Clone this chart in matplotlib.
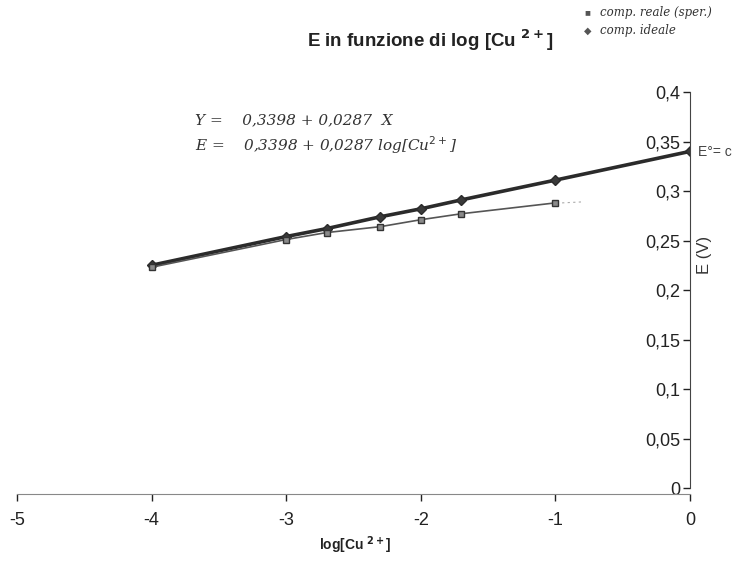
import matplotlib
matplotlib.use('Agg')
import matplotlib.pyplot as plt

# log della concentrazione di Cu2+
x_reale = [-4, -3, -2.7, -2.3, -2, -1.7, -1]
y_reale = [0.223, 0.251, 0.258, 0.264, 0.271, 0.277, 0.288]

x_ideale = [-4, -3, -2.7, -2.3, -2, -1.7, -1, 0]
y_ideale = [0.225, 0.254, 0.262, 0.274, 0.282, 0.291, 0.311, 0.340]

xticks = [-5, -4, -3, -2, -1, 0]
yticks = [0, 0.05, 0.1, 0.15, 0.2, 0.25, 0.3, 0.35, 0.4]
ytick_labels = ['0', '0,05', '0,1', '0,15', '0,2', '0,25', '0,3', '0,35', '0,4']

plt.rcParams['font.family'] = ['Liberation Sans', 'DejaVu Sans']

fig = plt.figure(figsize=(7.33, 5.61), dpi=100)
ax = fig.add_axes([0.0232, 0.1301, 0.9181, 0.7059])

# serie ideale (rombi, linea spessa) e reale (quadrati, linea sottile)
ax.plot(x_ideale, y_ideale, color='#2b2b2b', lw=2.6, marker='D', ms=5,
        mfc='#3a3a3a', mec='#2b2b2b', zorder=3)
ax.plot(x_reale, y_reale, color='#555555', lw=1.2, marker='s', ms=5,
        mfc='#8a8a8a', mec='#333333', zorder=4)
ax.plot([-0.95, -0.8], [y_reale[-1], y_reale[-1] + 0.001], color='#aaaaaa',
        lw=0.8, ls=(0, (2, 3)))

ax.set_xlim(-5, 0)
ax.set_ylim(0, 0.4)
ax.spines['top'].set_visible(False)
ax.spines['right'].set_visible(False)
ax.spines['left'].set_position(('data', 0))
ax.spines['left'].set_color('#444444')
ax.spines['bottom'].set_color('#888888')
ax.spines['bottom'].set_position(('data', -0.006))
ax.spines['left'].set_zorder(5)

ax.set_xticks(xticks)
ax.set_xticklabels([str(t) for t in xticks])
ax.set_yticks(yticks)
ax.set_yticklabels(ytick_labels)
ax.tick_params(axis='both', labelsize=13, colors='#222222', length=5, width=1)
ax.tick_params(axis='y', pad=2)
ax.tick_params(axis='x', pad=8)
ax.patch.set_alpha(0)

fig.text(0.587, 0.929, r'E in funzione di log [Cu $^{\bf 2+}$]', ha='center',
         va='center', fontsize=13.5, fontweight='bold', color='#222222')
fig.text(0.485, 0.028, r'log[Cu $^{\bf 2+}$]', ha='center', va='center',
         fontsize=10, fontweight='bold', color='#222222')

# legenda e annotazioni scritte a mano
fig.text(0.797, 0.978, '\u25a0', fontsize=7, color='#555555', va='center')
fig.text(0.818, 0.978, 'comp. reale (sper.)', fontsize=8.5, color='#333333',
         va='center', family='DejaVu Serif', style='italic')
fig.text(0.797, 0.946, '\u25c6', fontsize=7, color='#555555', va='center')
fig.text(0.818, 0.946, 'comp. ideale', fontsize=8.5, color='#333333',
         va='center', family='DejaVu Serif', style='italic')

fig.text(0.266, 0.786, 'Y =    0,3398 + 0,0287  X', fontsize=11,
         color='#333333', va='center', family='DejaVu Serif', style='italic')
fig.text(0.266, 0.742, 'E =    0,3398 + 0,0287 log[Cu$^{2+}$]', fontsize=11,
         color='#333333', va='center', family='DejaVu Serif', style='italic')

fig.text(0.952, 0.729, 'E\u00b0= c', fontsize=10, color='#444444', va='center')
fig.text(0.961, 0.545, 'E (V)', fontsize=12, color='#333333', rotation=90,
         ha='center', va='center')

fig.savefig('out.png', dpi=100, facecolor='white')
